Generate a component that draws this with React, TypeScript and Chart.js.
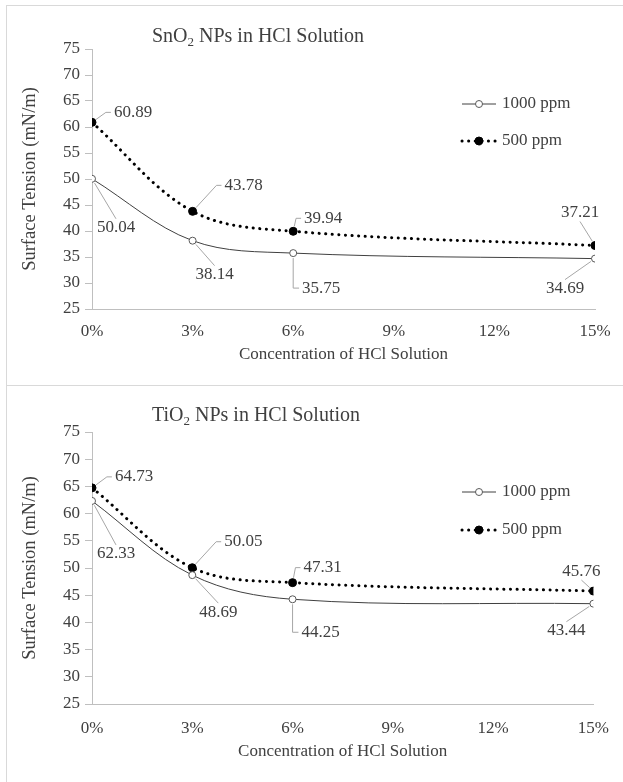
import React, { useEffect, useRef } from 'react';
import { Chart, registerables } from 'chart.js';
Chart.register(...registerables);

// ---- data ----
const concentrations = [0, 3, 6, 15];
const xTickValues = [0, 3, 6, 9, 12, 15];
const yTickValues = [25, 30, 35, 40, 45, 50, 55, 60, 65, 70, 75];
const seriesNames = ['1000 ppm', '500 ppm'];
const snO2_1000 = [50.04, 38.14, 35.75, 34.69];
const snO2_500 = [60.89, 43.78, 39.94, 37.21];
const tiO2_1000 = [62.33, 48.69, 44.25, 43.44];
const tiO2_500 = [64.73, 50.05, 47.31, 45.76];
const xTitle = 'Concentration of HCl Solution';
const yTitle = 'Surface Tension (mN/m)';

// ---- label placement (style): [dx, dy, leader mode] ----
const snO2Place1000 = [[24, 49, 't'], [22, 34, 't'], [28, 35, 'L'], [-30, 30, 't']];
const snO2Place500 = [[41, -10, 's'], [51, -26, 's'], [30, -13, 's'], [-15, -33, 't']];
const tiO2Place1000 = [[24, 53, 't'], [26, 37, 't'], [28, 33, 'L'], [-27, 27, 't']];
const tiO2Place500 = [[42, -11, 's'], [51, -26, 's'], [30, -15, 's'], [-12, -20, 't']];

const FONT = '"Liberation Serif", "Times New Roman", serif';
const TEXT = '#404040';
const AXIS = '#bfbfbf';
const LEADER = '#a6a6a6';

const annotPlugin = {
  id: 'annot',
  afterDatasetsDraw(chart: any, _args: any, opts: any) {
    const ctx = chart.ctx as CanvasRenderingContext2D;
    ctx.save();
    // data labels with leader lines
    ctx.font = `17px ${FONT}`;
    ctx.textAlign = 'center';
    ctx.textBaseline = 'middle';
    opts.placements.forEach((pl: any[], di: number) => {
      const meta = chart.getDatasetMeta(di);
      meta.data.forEach((pt: any, i: number) => {
        const [dx, dy, mode] = pl[i];
        const v = chart.data.datasets[di].data[i].y;
        const text = v.toFixed(2);
        const px = pt.x, py = pt.y;
        const cx = px + dx, cy = py + dy;
        const w = ctx.measureText(text).width;
        const h = 14;
        const L = cx - w / 2 - 3, R = cx + w / 2 + 3, T = cy - h / 2 - 2, B = cy + h / 2 + 2;
        ctx.strokeStyle = LEADER;
        ctx.lineWidth = 1;
        ctx.setLineDash([]);
        ctx.beginPath();
        const r = 5;
        if (mode === 'L') {
          ctx.moveTo(px, py + r);
          ctx.lineTo(px, cy);
          ctx.lineTo(L, cy);
        } else {
          let ex: number, ey: number;
          let stubEnd: number | null = null;
          if (mode === 's') {
            if (cx > px) { ex = L - 5; stubEnd = L; } else { ex = R + 5; stubEnd = R; }
            ey = cy;
          } else {
            ex = cx; ey = cy > py ? T : B;
          }
          const ang = Math.atan2(ey - py, ex - px);
          ctx.moveTo(px + r * Math.cos(ang), py + r * Math.sin(ang));
          ctx.lineTo(ex, ey);
          if (stubEnd !== null) ctx.lineTo(stubEnd, ey);
        }
        ctx.stroke();
        ctx.fillStyle = TEXT;
        ctx.fillText(text, cx, cy);
      });
    });

    // legend
    const lg = opts.legend;
    ctx.textAlign = 'left';
    ctx.font = `17px ${FONT}`;
    lg.rows.forEach((yy: number, k: number) => {
      const ds = chart.data.datasets[k];
      ctx.beginPath();
      ctx.strokeStyle = ds.borderColor;
      ctx.lineWidth = ds.borderWidth;
      ctx.lineCap = ds.borderCapStyle || 'butt';
      ctx.setLineDash(ds.borderDash || []);
      ctx.moveTo(lg.x0, yy);
      ctx.lineTo(lg.x1, yy);
      ctx.stroke();
      ctx.setLineDash([]);
      ctx.beginPath();
      ctx.arc((lg.x0 + lg.x1) / 2, yy, ds.pointRadius, 0, Math.PI * 2);
      ctx.fillStyle = ds.pointBackgroundColor;
      ctx.fill();
      ctx.lineWidth = ds.pointBorderWidth;
      ctx.strokeStyle = ds.pointBorderColor;
      ctx.stroke();
      ctx.fillStyle = TEXT;
      ctx.fillText(ds.label, lg.x1 + 6, yy);
    });

    // title with subscript
    const t = opts.title;
    const big = `20px ${FONT}`;
    const small = `13px ${FONT}`;
    const widths = t.parts.map((p: any) => {
      ctx.font = p.sub ? small : big;
      return ctx.measureText(p.text).width;
    });
    const total = widths.reduce((a: number, b: number) => a + b, 0);
    let x = t.cx - total / 2;
    ctx.fillStyle = TEXT;
    ctx.textBaseline = 'alphabetic';
    t.parts.forEach((p: any, k: number) => {
      ctx.font = p.sub ? small : big;
      ctx.fillText(p.text, x, p.sub ? t.y + 4 : t.y);
      x += widths[k];
    });
    ctx.restore();
  },
};

function makeConfig(v1000: number[], v500: number[], place1000: any[], place500: any[], opts: any) {
  const tickFont = { family: FONT, size: 17 };
  return {
    type: 'line',
    data: {
      datasets: [
        {
          label: seriesNames[0],
          data: concentrations.map((c, i) => ({ x: c, y: v1000[i] })),
          borderColor: '#404040',
          borderWidth: 1,
          tension: 0.35,
          pointRadius: 3.5,
          pointBackgroundColor: '#ffffff',
          pointBorderColor: '#595959',
          pointBorderWidth: 1,
          borderDash: [],
          borderCapStyle: 'butt',
        },
        {
          label: seriesNames[1],
          data: concentrations.map((c, i) => ({ x: c, y: v500[i] })),
          borderColor: '#000000',
          borderWidth: 3,
          borderDash: [0.1, 6.5],
          borderCapStyle: 'round',
          tension: 0.35,
          pointRadius: 4,
          pointBackgroundColor: '#000000',
          pointBorderColor: '#000000',
          pointBorderWidth: 1,
        },
      ],
    },
    options: {
      responsive: false,
      animation: false,
      events: [],
      layout: { padding: { top: opts.top, right: 28, left: 0, bottom: 0 } },
      plugins: {
        legend: { display: false },
        title: { display: false },
        tooltip: { enabled: false },
        annot: {
          placements: [place1000, place500],
          legend: opts.legend,
          title: opts.title,
        },
      },
      scales: {
        x: {
          type: 'linear',
          min: 0,
          max: 15,
          afterBuildTicks: (s: any) => { s.ticks = xTickValues.map((v) => ({ value: v })); },
          afterFit: (s: any) => { s.height = opts.xHeight; },
          ticks: { callback: (v: any) => v + '%', color: TEXT, font: tickFont, padding: opts.xPad, autoSkip: false, maxRotation: 0 },
          grid: { display: true, drawOnChartArea: false, drawTicks: false, color: 'rgba(0,0,0,0)' },
          border: { display: true, color: AXIS, width: 1 },
          title: { display: true, text: xTitle, color: TEXT, font: { family: FONT, size: 17 }, padding: { top: 0, bottom: opts.xTitlePad } },
        },
        y: {
          type: 'linear',
          min: 25,
          max: 75,
          afterBuildTicks: (s: any) => { s.ticks = yTickValues.map((v) => ({ value: v })); },
          afterFit: (s: any) => { s.width = 92; },
          ticks: { color: TEXT, font: tickFont, padding: 5 },
          grid: { display: true, drawOnChartArea: false, drawTicks: true, tickLength: 7, color: AXIS },
          border: { display: true, color: AXIS, width: 1 },
          title: { display: true, text: yTitle, color: TEXT, font: { family: FONT, size: 18.5 }, padding: { top: 19, bottom: 0 } },
        },
      },
    },
    plugins: [annotPlugin],
  };
}

function ChartPanel(props: { config: any; width: number; height: number; top: number }) {
  const ref = useRef<HTMLCanvasElement | null>(null);
  useEffect(() => {
    if (!ref.current) return;
    const ch = new Chart(ref.current, props.config);
    return () => ch.destroy();
  }, []);
  return (
    <canvas
      ref={ref}
      width={props.width}
      height={props.height}
      style={{ position: 'absolute', left: 0, top: props.top, width: props.width, height: props.height }}
    />
  );
}

export default function App() {
  const cfgTop = makeConfig(snO2_1000, snO2_500, snO2Place1000, snO2Place500, {
    top: 49,
    xHeight: 76,
    xPad: 12,
    xTitlePad: 20,
    legend: { x0: 462, x1: 496, rows: [104, 141] },
    title: { cx: 258, y: 42, parts: [{ text: 'SnO' }, { text: '2', sub: true }, { text: ' NPs in HCl Solution' }] },
  });
  const cfgBottom = makeConfig(tiO2_1000, tiO2_500, tiO2Place1000, tiO2Place500, {
    top: 46,
    xHeight: 78,
    xPad: 14,
    xTitlePad: 20,
    legend: { x0: 462, x1: 496, rows: [106, 144] },
    title: { cx: 256, y: 35, parts: [{ text: 'TiO' }, { text: '2', sub: true }, { text: ' NPs in HCl Solution' }] },
  });
  return (
    <div style={{ position: 'absolute', left: 0, top: 0, width: 623, height: 782, background: '#ffffff', overflow: 'hidden' }}>
      <div style={{ position: 'absolute', left: 6, top: 5, width: 617, height: 777, borderLeft: '1px solid #d9d9d9', borderTop: '1px solid #d9d9d9' }} />
      <div style={{ position: 'absolute', left: 6, top: 385, width: 617, height: 0, borderTop: '1px solid #d9d9d9' }} />
      <ChartPanel config={cfgTop} width={623} height={385} top={0} />
      <ChartPanel config={cfgBottom} width={623} height={396} top={386} />
    </div>
  );
}
